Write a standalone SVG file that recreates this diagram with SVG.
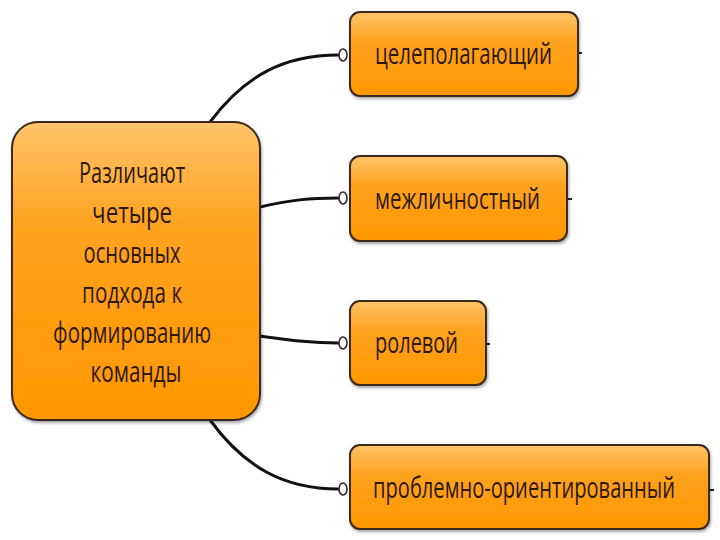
<svg xmlns="http://www.w3.org/2000/svg" width="720" height="540" viewBox="0 0 720 540">
<defs>
<linearGradient id="g" x1="0" y1="0" x2="0" y2="1">
<stop offset="0" stop-color="#FFC46A"/>
<stop offset="0.35" stop-color="#FFA21F"/>
<stop offset="1" stop-color="#FF9800"/>
</linearGradient>
<filter id="sh" x="-10%" y="-10%" width="120%" height="130%">
<feDropShadow dx="1" dy="2" stdDeviation="1.5" flood-color="#000" flood-opacity="0.35"/>
</filter>
</defs>
<style>
.box{fill:url(#g);stroke:#3a2a1a;stroke-width:2;filter:url(#sh)}
.t{font-family:"Open Sans","Liberation Sans",sans-serif;font-size:30px;fill:#2e1803}
.tw{font-family:"Open Sans","Liberation Sans",sans-serif;font-size:22px;fill:#2e1803}
.c{fill:none;stroke:#111;stroke-width:3;stroke-linecap:round}
.d{fill:#fff;stroke:#222;stroke-width:1.5}
.k{stroke:#222;stroke-width:2}
</style>
<rect width="720" height="540" fill="#fff"/>
<g id="connectors">
<path class="c" d="M210 122 C 245 75, 285 55, 338 55"/>
<path class="c" d="M260 207 C 290 200, 310 198, 338 198"/>
<path class="c" d="M260 336 C 290 340, 310 343, 338 343"/>
<path class="c" d="M210 420 C 245 468, 285 489, 338 489"/>
<ellipse class="d" cx="343" cy="55" rx="4" ry="6"/>
<ellipse class="d" cx="343" cy="198" rx="4" ry="6"/>
<ellipse class="d" cx="343" cy="343" rx="4" ry="6"/>
<ellipse class="d" cx="343" cy="489" rx="4" ry="6"/>
<line class="k" x1="578" y1="53" x2="582" y2="53"/>
<line class="k" x1="567" y1="199" x2="572" y2="199"/>
<line class="k" x1="486" y1="344" x2="490" y2="344"/>
<line class="k" x1="709" y1="490" x2="714" y2="490"/>
</g>
<g id="main">
<rect class="box" x="12" y="122" width="248" height="298" rx="26"/>
<text class="t" text-anchor="middle">
<tspan x="136" y="183" textLength="106" lengthAdjust="spacingAndGlyphs">Различают</tspan>
<tspan x="136" y="223" textLength="80" lengthAdjust="spacingAndGlyphs">четыре</tspan>
<tspan x="136" y="263" textLength="97" lengthAdjust="spacingAndGlyphs">основных</tspan>
<tspan x="136" y="303" textLength="100" lengthAdjust="spacingAndGlyphs">подхода к</tspan>
<tspan x="136" y="343" textLength="158" lengthAdjust="spacingAndGlyphs">формированию</tspan>
<tspan x="136" y="382" textLength="91" lengthAdjust="spacingAndGlyphs">команды</tspan>
</text>
</g>
<g id="n1">
<rect class="box" x="350" y="12" width="228" height="84" rx="10"/>
<text class="t" x="375" y="64" textLength="177" lengthAdjust="spacingAndGlyphs">целеполагающий</text>
</g>
<g id="n2">
<rect class="box" x="350" y="156" width="217" height="85" rx="10"/>
<text class="t" x="375" y="209" textLength="165" lengthAdjust="spacingAndGlyphs">межличностный</text>
</g>
<g id="n3">
<rect class="box" x="350" y="301" width="136" height="84" rx="10"/>
<text class="t" x="375" y="353" textLength="83" lengthAdjust="spacingAndGlyphs">ролевой</text>
</g>
<g id="n4">
<rect class="box" x="350" y="445" width="359" height="84" rx="10"/>
<text class="tw" transform="translate(373 498) scale(1 1.35)" x="0" y="0" textLength="302" lengthAdjust="spacingAndGlyphs">проблемно-ориентированный</text>
</g>
</svg>
